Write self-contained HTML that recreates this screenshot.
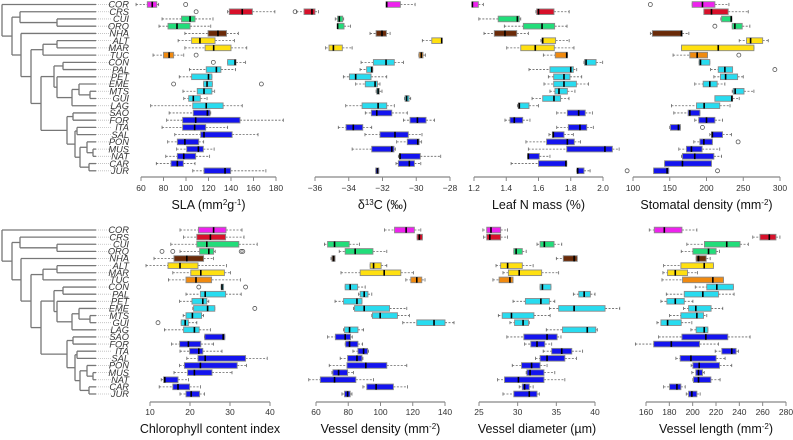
<!DOCTYPE html>
<html><head><meta charset="utf-8">
<style>
html,body{margin:0;padding:0;background:#fff;}
svg{display:block;font-family:"Liberation Sans",sans-serif;}
</style></head>
<body>
<svg id="fig" width="793" height="440" viewBox="0 0 793 440" xmlns="http://www.w3.org/2000/svg"></svg>
<script>
const species = ["COR","CRS","CUI","ORQ","NHA","ALT","MAR","TUC","CON","PAL","PET","EME","MTS","GUI","LAG","SAO","FOR","ITA","SAL","PON","MUS","NAT","CAR","JUR"];
const groupColors = ["#ee22ee","#d8102a","#22dd7a","#22dd7a","#6a2a08","#ffe010","#ffe010","#f08a10","#28dcf0","#28dcf0","#28dcf0","#28dcf0","#28dcf0","#28dcf0","#28dcf0","#1414ee","#1414ee","#1414ee","#1414ee","#1414ee","#1414ee","#1414ee","#1414ee","#1414ee"];
// [whiskerLow, q1, median, q3, whiskerHigh]
const slaStats = [[55.6,65.6,70,74,75.7],[137,138.5,150,159,179],[78.7,96,103.6,108,124],[76,84,92,103.6,122],[99,119.6,128.4,136,146.5],[93,105,112.4,125.8,143],[99,117,124.6,140,154],[70.7,80,85,89,98],[137,137,143.6,144.4,153],[103,118,127,131,144],[94,105,120,123,123],[115.7,115.7,118.7,123.4,123.4],[97.3,110,116,123,125.5],[98,102.4,106.5,112.7,118.7],[68.6,106,118,133,150],[85,106.5,119,121.3,122],[82.8,97,108.6,148,186.5],[78.7,97,107.7,117.5,137],[90,113,116,141,164],[83.7,92.3,99,111.3,115.7],[91.7,100.6,111,115.4,125],[82,92.3,98,108.6,121],[73.6,86.7,92.3,97.6,108],[106,116,134.7,139.7,171]];
const slaOutliers = [[0,99.7],[1,109],[1,197],[7,109],[8,124.3],[11,89],[11,167]];
const d13cStats = [[-31.79,-31.79,-31.75,-30.94,-30.07],[-37.1,-36.65,-36.18,-36,-35.8],[-34.8,-34.66,-34.56,-34.36,-34.3],[-34.66,-34.66,-34.66,-34.28,-33.9],[-32.74,-32.38,-32.03,-31.77,-31.55],[-29.64,-29.08,-28.49,-28.47,-28.47],[-35.37,-35.17,-34.91,-34.38,-33.8],[-29.85,-29.83,-29.7,-29.6,-29.46],[-33.27,-32.54,-31.79,-31.3,-30.76],[-33.33,-32.94,-32.64,-32.58,-32.58],[-34.32,-33.96,-33.59,-32.68,-31.75],[-33.59,-33.02,-32.44,-32.3,-32.15],[-32.38,-32.34,-32.26,-32.19,-32.03],[-30.7,-30.66,-30.57,-30.43,-30.33],[-34.18,-33.21,-32.26,-31.75,-31.3],[-33.02,-32.66,-32.34,-31.45,-30.53],[-30.76,-30.37,-29.93,-29.42,-28.92],[-34.62,-34.16,-33.73,-33.17,-32.64],[-33.04,-32.15,-31.26,-30.47,-29.66],[-31.16,-30.53,-29.91,-29.83,-29.68],[-33.8,-32.64,-31.45,-31.32,-31.24],[-31.06,-31.0,-30.96,-29.76,-28.55],[-31.2,-31.06,-30.41,-30.11,-29.73],[-32.4,-32.4,-32.3,-32.22,-32.22]];
const leafNStats = [[1.188,1.188,1.19,1.227,1.258],[1.584,1.589,1.6,1.696,1.79],[1.23,1.35,1.469,1.481,1.49],[1.388,1.506,1.622,1.7,1.777],[1.262,1.326,1.392,1.465,1.537],[1.615,1.622,1.626,1.706,1.79],[1.403,1.49,1.58,1.698,1.82],[1.63,1.704,1.775,1.779,1.779],[1.882,1.886,1.895,1.957,1.998],[1.541,1.671,1.8,1.816,1.837],[1.661,1.694,1.758,1.795,1.868],[1.634,1.694,1.758,1.835,1.91],[1.671,1.702,1.727,1.779,1.826],[1.56,1.626,1.696,1.737,1.789],[1.469,1.475,1.481,1.541,1.6],[1.713,1.779,1.849,1.89,1.934],[1.392,1.423,1.45,1.502,1.547],[1.713,1.785,1.857,1.899,1.94],[1.665,1.686,1.692,1.758,1.816],[1.522,1.65,1.779,1.822,1.861],[1.537,1.775,2.012,2.058,2.1],[1.533,1.533,1.537,1.605,1.671],[1.43,1.6,1.77,1.775,1.775],[1.837,1.839,1.843,1.882,1.92]];
const stomStats = [[180.5,180.5,194.5,211.4,230.5],[196.4,196.4,206.8,229.5,256.8],[219.5,220.5,233.6,234.5,234.5],[235,235,238.6,248.6,259],[123.6,126.4,166,166.8,176],[244.5,254.5,260,276.4,284],[166,166,216,264.5,264.5],[154.5,177.3,187.3,201.4,201.4],[190,190,191.8,204.5,204.5],[205.5,216,225,235.5,235.5],[210,219,226,242.3,250],[184,195.5,204.5,214.5,225],[235,236.4,239,251,264.5],[211.4,211.4,234.5,235.5,244.5],[152.3,186.4,196.8,218,232],[155.5,175,177.3,191,191],[184,189.5,200,211.4,221.8],[150,151,161.8,164.5,164.5],[204.5,206.8,208,221.8,234],[182.7,191,196.4,208,208],[162.3,172.7,179.5,194,218],[166,167.3,184,210,220.5],[143,143,167.3,206.8,206.8],[128,128,146.4,148.6,148.6]];
const stomOutliers = [[0,123.6],[3,211.4],[7,244],[9,293],[17,194.5],[19,243],[23,92],[23,215]];
const chlStats = [[17.5,22.1,25.9,29,33],[18.4,21.7,25.1,28.9,33.5],[15.2,21.7,24.2,32.2,36.8],[17.5,22.4,24.7,25.9,26.3],[11,16,19.2,23.4,25.9],[9,14.5,17.5,22,29.1],[15.7,20.2,22.7,28.6,30.1],[14.6,19,21.5,25.4,32.6],[27.8,27.8,28,28.4,28.4],[19,22.6,23.8,28.9,32.8],[17.4,20.5,23.2,24.2,24.7],[20.7,20.9,24.4,26.2,26.2],[18.3,19,20.6,22.9,23.4],[17.8,17.8,18.8,19.6,21.7],[13.6,18.4,21.1,22.3,25.1],[23.6,23.7,28.3,28.7,28.7],[15.4,17.4,19.6,22.7,25.9],[17.5,19.9,22.2,23.2,28],[19.2,22,23.8,33.9,39.3],[17.4,18.6,22.6,31.8,34.1],[16,19.4,21.1,25.5,30.5],[12.8,13.4,13.7,17,19.6],[12.3,15.7,17,19.9,22.6],[17.5,19,20.3,22.4,23.6]];
const chlOutliers = [[3,13],[3,15.7],[3,32.8],[3,33.2],[8,22.2],[8,33.9],[11,36.2],[13,12]];
const vdenStats = [[102.5,108.7,115.9,121,125],[122.7,122.7,124.1,126,126],[65.2,67.2,71.5,80.6,87],[74.4,78.1,84.3,95.3,103.9],[69.3,69.9,70.9,71.8,71.8],[93.6,93.6,95.7,100.4,103.9],[75.5,87.4,102.3,112.6,120.4],[115.7,118.8,122.5,125.6,127.6],[78.1,78.1,81.2,85.8,90.5],[86.4,87.4,89.9,92.2,94.6],[71.8,77.1,85.4,88.5,88.5],[83.3,83.9,89.9,105.6,116.3],[94.6,95,99.8,110.5,117.9],[113.8,122.5,133.2,140,145.6],[77.1,77.7,80.8,86,89.5],[67.2,72,78.1,81.4,82.5],[78.1,78.4,80.8,86,88.9],[82.9,86,89.5,92,92.6],[75,79.6,85.4,88.5,89.1],[68.2,79.2,90.9,103.9,116.3],[69.9,70.5,74,79.6,83.3],[55.5,62.7,71.5,84.7,95.7],[89.1,91.5,97.3,108,116.7],[76.1,77.7,79.6,81.2,82.3]];
const vdiamStats = [[25.5,26,26.55,27.8,28.7],[25.6,26,26.4,27.8,28.7],[32.5,32.9,33.45,34.7,35.7],[29.5,29.5,29.8,30.6,31.1],[35,35.9,37.3,37.7,37.7],[27.2,27.8,28.7,30.6,32],[28.1,28.8,30.2,33.1,35.3],[26.8,27.6,29,29.4,29.4],[32.9,32.9,33.2,34.3,34.3],[37.2,37.9,38.6,39.4,40],[29.4,31,33,34.1,34.8],[34.1,35.3,37.3,41.3,43.2],[27.5,28,29.2,32.1,34.2],[29,29.6,30.7,31.4,31.5],[33.7,35.8,39,40.1,40.3],[28.6,30.8,33.8,35.1,35.6],[30.9,31.7,32.5,33.5,34.4],[33.3,34.4,35.7,37,38.4],[32.3,32.9,33.8,36.1,37.6],[29.3,30.5,31.8,32.9,33.8],[31.1,31.2,31.6,33.4,34.8],[27.4,28.3,30.1,33.4,36.1],[30.2,30.6,30.9,31.5,32],[28.1,29.5,31.5,32.5,32.8]];
const vlenStats = [[162.8,167.1,175.7,190.8,203.6],[251.5,257.7,265.7,271.4,274.8],[195,210.1,229.2,240.6,247.7],[190.2,200.2,213.6,220.1,223],[203,203,205,211.6,215],[175.1,189.9,209.9,217.8,217.8],[174.5,178.5,185.1,195.6,204.2],[173.7,191.3,217.3,226.4,226.4],[202.2,212.1,220.7,234.9,234.9],[177.4,192.8,208.7,222.1,235.5],[172.8,177.9,185.1,192.8,200.2],[192.2,196.5,202.7,215.8,225.8],[180.2,189.9,203.6,209.3,212.1],[169.4,172.8,178.5,190.2,199.3],[198.5,203,209.9,213,213],[170.8,190.8,211.3,230.1,249.2],[150.9,166.6,181.7,205.9,222.1],[219.3,225,233.5,237.2,239.2],[185.6,189.3,198.5,220.1,227.8],[198.7,200.2,205.6,223,233.5],[199.3,202.7,205,208.4,209.9],[200.2,200.7,205,215.6,223.5],[175.1,180.2,186.5,189.9,193.6],[194.5,196.5,199.3,203.6,206.4]];
const slaTicks = [60,80,100,120,140,160,180];
const d13cTicks = [-36,-34,-32,-30,-28];
const leafNTicks = [1.2,1.4,1.6,1.8,2.0];
const stomTicks = [100,150,200,250,300];
const chlTicks = [10,20,30,40];
const vdenTicks = [60,80,100,120,140];
const vdiamTicks = [25,30,35,40];
const vlenTicks = [160,180,200,220,240,260,280];

const NS = "http://www.w3.org/2000/svg";
const svg = document.getElementById("fig");
function mk(tag, attrs, parent){
  const e = document.createElementNS(NS, tag);
  for (const k in attrs) e.setAttribute(k, attrs[k]);
  (parent||svg).appendChild(e);
  return e;
}
const rows = [
  {y0:4.5, step:7.23, axisY:177, tickY:191, titleY:209},
  {y0:230, step:7.13, axisY:402, tickY:415, titleY:433}
];
const panels = [
  {name:"sla", row:0, stats:slaStats, out:slaOutliers, ticks:slaTicks, d0:60, d1:180, p0:141, p1:276, fmt:v=>v, title:'SLA (mm<tspan dy="-4" font-size="8">2</tspan><tspan dy="4">g</tspan><tspan dy="-4" font-size="8">-1</tspan><tspan dy="4">)</tspan>'},
  {name:"d13c", row:0, stats:d13cStats, out:[], ticks:d13cTicks, d0:-36, d1:-28, p0:315, p1:450, fmt:v=>String(v).replace("-","\u2212"), title:'δ<tspan dy="-4" font-size="8">13</tspan><tspan dy="4">C (‰)</tspan>'},
  {name:"leaf-n", row:0, stats:leafNStats, out:[], ticks:leafNTicks, d0:1.2, d1:2.0, p0:474, p1:603, fmt:v=>v.toFixed(1), title:'Leaf N mass (%)'},
  {name:"stomatal", row:0, stats:stomStats, out:stomOutliers, ticks:stomTicks, d0:100, d1:300, p0:633, p1:780, fmt:v=>v, title:'Stomatal density (mm<tspan dy="-4" font-size="8">-2</tspan><tspan dy="4">)</tspan>'},
  {name:"chlorophyll", row:1, stats:chlStats, out:chlOutliers, ticks:chlTicks, d0:10, d1:40, p0:150, p1:270, fmt:v=>v, title:'Chlorophyll content index'},
  {name:"vessel-density", row:1, stats:vdenStats, out:[], ticks:vdenTicks, d0:60, d1:140, p0:316, p1:445, fmt:v=>v, title:'Vessel density (mm<tspan dy="-4" font-size="8">-2</tspan><tspan dy="4">)</tspan>'},
  {name:"vessel-diameter", row:1, stats:vdiamStats, out:[], ticks:vdiamTicks, d0:25, d1:40, p0:479, p1:595, fmt:v=>v, title:'Vessel diameter (µm)'},
  {name:"vessel-length", row:1, stats:vlenStats, out:[], ticks:vlenTicks, d0:160, d1:280, p0:646, p1:786, fmt:v=>v, title:'Vessel length (mm<tspan dy="-4" font-size="8">-2</tspan><tspan dy="4">)</tspan>'}
];

panels.forEach(p=>{
  const R = rows[p.row];
  const sx = v => p.p0 + (v - p.d0) * (p.p1 - p.p0) / (p.d1 - p.d0);
  const sy = i => R.y0 + i * R.step;
  const g = mk("g", {});
  
  
  const ax = mk("g", {}, g);
  
  
  mk("line", {x1:sx(p.ticks[0]), x2:sx(p.ticks[p.ticks.length-1]), y1:R.axisY, y2:R.axisY, stroke:"#888", "stroke-width":1.2}, ax);
  p.ticks.forEach(t=>{
    mk("line", {x1:sx(t), x2:sx(t), y1:R.axisY, y2:R.axisY+4, stroke:"#888", "stroke-width":1}, ax);
    const tl = mk("text", {x:sx(t), y:R.tickY, "font-size":8.5, "text-anchor":"middle", fill:"#333"}, ax);
    
    
    tl.textContent = p.fmt(t);
  });
  const tt = mk("text", {x:(sx(p.ticks[0])+sx(p.ticks[p.ticks.length-1]))/2, y:R.titleY, "font-size":12.5, "text-anchor":"middle", fill:"#111"}, ax);
  
  
  tt.innerHTML = p.title;
  p.stats.forEach((s,i)=>{
    const y = sy(i), h = 5.6;
    const bg = mk("g", {}, g);
    
    
    mk("line", {x1:sx(s[0]), x2:sx(s[1]), y1:y, y2:y, stroke:"#666", "stroke-width":0.8, "stroke-dasharray":"2,1.5"}, bg);
    mk("line", {x1:sx(s[3]), x2:sx(s[4]), y1:y, y2:y, stroke:"#666", "stroke-width":0.8, "stroke-dasharray":"2,1.5"}, bg);
    mk("line", {x1:sx(s[0]), x2:sx(s[0]), y1:y-1.6, y2:y+1.6, stroke:"#666", "stroke-width":0.8}, bg);
    mk("line", {x1:sx(s[4]), x2:sx(s[4]), y1:y-1.6, y2:y+1.6, stroke:"#666", "stroke-width":0.8}, bg);
    mk("rect", {x:sx(s[1]), y:y-h/2, width:Math.max(sx(s[3])-sx(s[1]),1), height:h, fill:groupColors[i], stroke:"#8a8a8a", "stroke-width":0.9}, bg);
    mk("line", {x1:sx(s[2]), x2:sx(s[2]), y1:y-h/2, y2:y+h/2, stroke:"#000", "stroke-width":1.6}, bg);
  });
  p.out.forEach(o=>{
    const c = mk("circle", {cx:sx(o[1]), cy:sy(o[0]), r:2, fill:"none", stroke:"#555", "stroke-width":0.8}, g);
    
    
  });
});

const tree = {x:2, c:[0, {x:12, c:[
  {x:20, c:[1, {x:57, c:[2,3]}]},
  {x:21, c:[4, {x:31, c:[
    {x:43, c:[{x:57, c:[5,6]}, 7]},
    {x:41, c:[
      {x:54, c:[{x:63, c:[8,9]}, {x:57, c:[10, {x:72, c:[{x:79, c:[11, {x:90, c:[12,13]}]}, 14]}]}]},
      {x:67, c:[{x:73, c:[15,16]}, {x:75, c:[{x:77, c:[17,18]}, {x:80, c:[{x:87, c:[19, {x:93, c:[20,21]}]}, {x:89, c:[22,23]}]}]}]}
    ]}
  ]}]}
]}]};
rows.forEach((R,ri)=>{
  const tg = mk("g", {});
  
  
  const sy = i => R.y0 + i * R.step;
  function draw(n, px){
    if (typeof n === "number"){
      const y = sy(n);
      mk("line", {x1:px, x2:96, y1:y, y2:y, stroke:"#777", "stroke-width":1.3}, tg);
      mk("line", {x1:96, x2:112, y1:y, y2:y, stroke:"#bbb", "stroke-width":0.8, "stroke-dasharray":"1,1"}, tg);
      const t = mk("text", {x:129, y:y+3.2, "font-size":9.3, "font-style":"italic", "text-anchor":"end", fill:"#333"}, tg);
      
      
      t.textContent = species[n];
      return y;
    }
    const ys = n.c.map(ch=>draw(ch, n.x));
    const y = (Math.min(...ys)+Math.max(...ys))/2;
    mk("line", {x1:n.x, x2:n.x, y1:Math.min(...ys), y2:Math.max(...ys), stroke:"#777", "stroke-width":1.3}, tg);
    if (px!==null) mk("line", {x1:px, x2:n.x, y1:y, y2:y, stroke:"#777", "stroke-width":1.3}, tg);
    return y;
  }
  draw(tree, null);
});
</script>
</body></html>
